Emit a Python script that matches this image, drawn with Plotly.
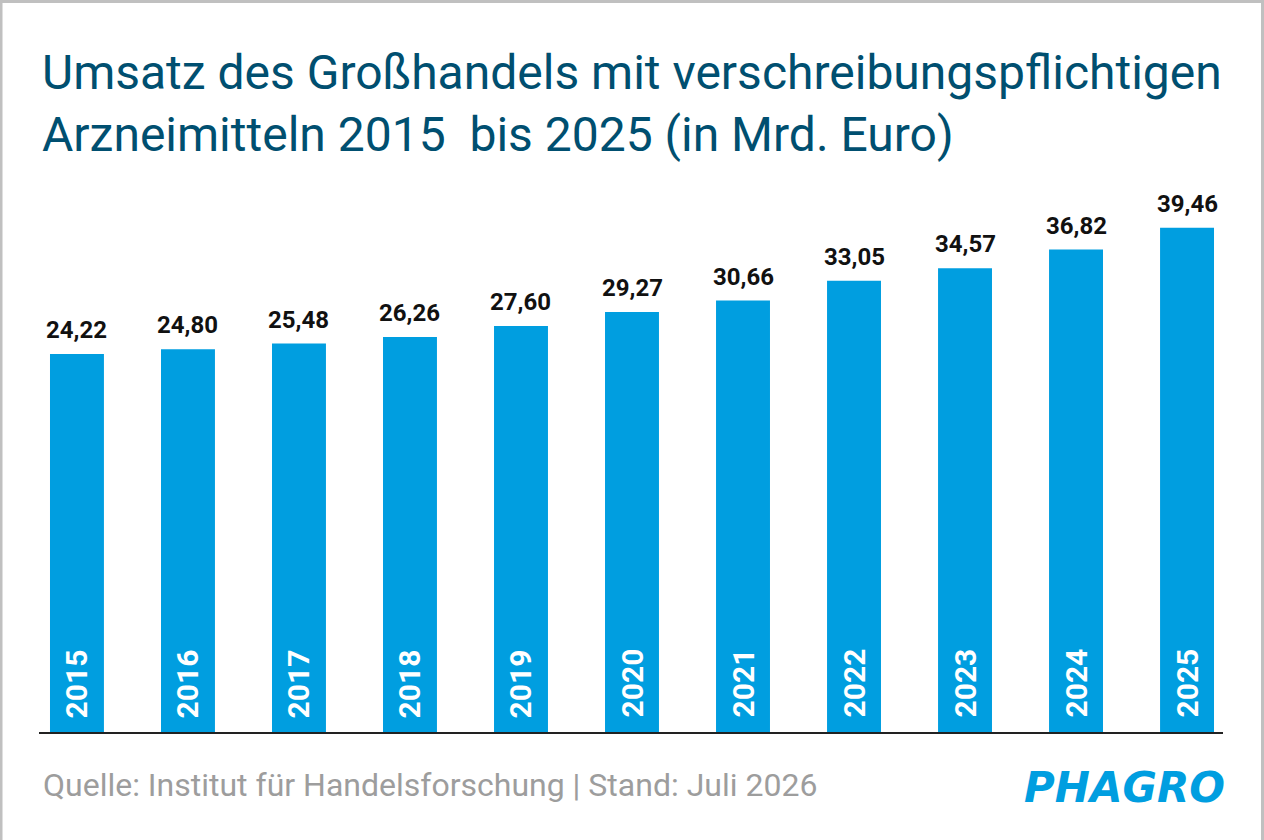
import plotly.graph_objects as go

# Daten (Mrd. Euro)
jahre = ["2015", "2016", "2017", "2018", "2019", "2020", "2021", "2022", "2023", "2024", "2025"]
umsatz = [24.22, 24.80, 25.48, 26.26, 27.60, 29.27, 30.66, 33.05, 34.57, 36.82, 39.46]

titel = "Umsatz des Großhandels mit verschreibungspflichtigen<br>Arzneimitteln 2015  bis 2025 (in Mrd. Euro)"
quelle = "Quelle: Institut für Handelsforschung | Stand: Juli 2026"

# Achse beginnt nicht bei 0 (abgeschnittene Skala wie im Original)
Y_MIN = -21.39
Y_MAX = 44.0

BLAU = "#009ee0"
TITEL_FARBE = "#004f70"

W, H = 1264, 840
ML, MR, MT, MB = 39, 41, 190, 108
PW = W - ML - MR
PH = H - MT - MB

def px_x(p):
    return (p - ML) / PW

def px_y(p):
    return (H - MB - p) / PH

fig = go.Figure()
fig.add_trace(go.Bar(
    x=jahre,
    y=[v - Y_MIN for v in umsatz],
    base=Y_MIN,
    marker=dict(color=BLAU, line=dict(width=0)),
    hoverinfo="skip",
    showlegend=False,
))

anns = []
for i, (j, v) in enumerate(zip(jahre, umsatz)):
    # Werte über den Balken (x als Index, sonst liest plotly "2015" als Zahl)
    anns.append(dict(
        x=i, y=v, xref="x", yref="y",
        text=f"{v:.2f}".replace(".", ","),
        showarrow=False, yanchor="bottom", yshift=8,
        font=dict(family="Roboto", size=24, color="#111111", weight="bold"),
    ))
    # Jahreszahlen senkrecht im Balken
    anns.append(dict(
        x=i, y=Y_MIN, xref="x", yref="y",
        text=j, textangle=-90,
        showarrow=False, yanchor="bottom", yshift=12,
        font=dict(family="Roboto", size=30, color="white", weight="bold"),
    ))

anns.append(dict(
    x=px_x(40), y=px_y(42), xref="paper", yref="paper",
    text=titel, showarrow=False, xanchor="left", yanchor="top", align="left",
    font=dict(family="Roboto", size=48, color=TITEL_FARBE),
))
anns.append(dict(
    x=px_x(41), y=px_y(785), xref="paper", yref="paper",
    text=quelle, showarrow=False, xanchor="left", yanchor="middle",
    font=dict(family="Roboto", size=32, color="#9d9d9d"),
))
anns.append(dict(
    x=px_x(1124), y=px_y(787), xref="paper", yref="paper",
    text="PHAGRO", showarrow=False, xanchor="center", yanchor="middle",
    font=dict(family="DejaVu Sans", size=42, color=BLAU, weight="bold", style="italic"),
))

# Rahmen (links, oben, rechts)
rahmen = "#c0c0c0"
shapes = [
    dict(type="line", xref="paper", yref="paper", x0=px_x(1), x1=px_x(1), y0=px_y(0), y1=px_y(H),
         line=dict(color=rahmen, width=3)),
    dict(type="line", xref="paper", yref="paper", x0=px_x(0), x1=px_x(W), y0=px_y(1.5), y1=px_y(1.5),
         line=dict(color=rahmen, width=3)),
    dict(type="line", xref="paper", yref="paper", x0=px_x(W - 1.5), x1=px_x(W - 1.5), y0=px_y(0), y1=px_y(H),
         line=dict(color=rahmen, width=3)),
]

fig.update_layout(
    width=W, height=H,
    margin=dict(l=ML, r=MR, t=MT, b=MB, pad=0),
    paper_bgcolor="white", plot_bgcolor="white",
    bargap=0.514,
    annotations=anns,
    shapes=shapes,
)
fig.update_xaxes(
    type="category", range=[-0.342, 10.324],
    showline=True, linecolor="#222222", linewidth=2,
    showticklabels=False, ticks="", showgrid=False, zeroline=False,
)
fig.update_yaxes(range=[Y_MIN, Y_MAX], visible=False, showgrid=False, zeroline=False)

# Seitenrand des Browsers entfernen, keine Modebar
fig.write_html("out.html", config={"displayModeBar": False},
               post_script="document.body.style.margin='0';")
